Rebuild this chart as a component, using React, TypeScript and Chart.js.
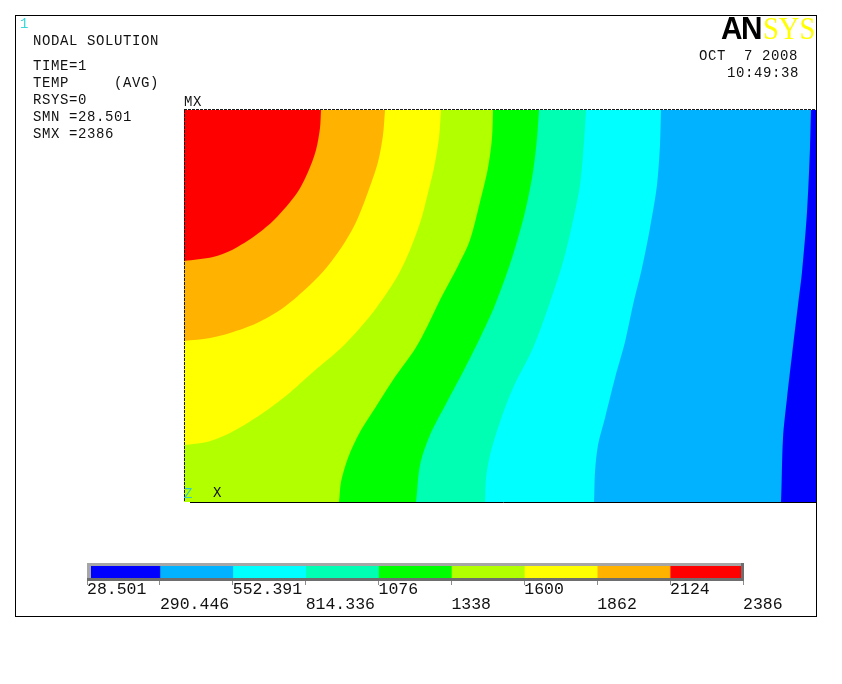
import React, { useEffect, useRef } from "react";
import { Chart, registerables } from "chart.js";

Chart.register(...registerables);

// Band edges as [distance along x, height above the lower edge], model units.
const edgeRed = [[0,241],[29,245],[48,252],[72,267],[91,283],[113,309],[124,330],[132,352],[136,374],[137,392]];
const edgeOrange = [[0,161],[26,164],[46,169],[73,179],[99,194],[126,217],[143,235],[161,260],[173,282],[184,310],[194,340],[199,367],[201,392]];
const edgeYellow = [[0,57],[23,60],[46,69],[76,87],[103,107],[129,130],[156,153],[176,174],[193,195],[213,225],[226,252],[237,282],[243,305],[250,334],[255,364],[257,392]];
const edgeLime = [[0,0],[154,0],[155,0],[157,20],[164,44],[176,70],[193,97],[209,122],[231,153],[243,175],[256,202],[274,236],[286,262],[296,300],[304,334],[308,364],[309,392]];
const edgeGreen = [[0,0],[231,0],[232,0],[236,37],[246,67],[263,100],[280,132],[296,164],[311,197],[328,244],[341,290],[349,330],[353,364],[355,392]];
const edgeSpring = [[0,0],[300,0],[301,0],[302,24],[306,47],[316,80],[329,114],[349,154],[365,197],[379,240],[388,277],[396,317],[400,360],[402,392]];
const edgeCyan = [[0,0],[409,0],[410,0],[411,30],[414,57],[421,84],[431,124],[441,160],[449,197],[458,234],[466,274],[473,317],[476,357],[477,392]];
const edgeAzure = [[0,0],[596,0],[597,0],[599,64],[603,104],[608,147],[614,197],[618,230],[623,290],[626,354],[627,392]];
const edgeBlue = [[0,0],[633,0]];

const bandEdges = [edgeRed, edgeOrange, edgeYellow, edgeLime, edgeGreen, edgeSpring, edgeCyan, edgeAzure, edgeBlue];
const bandColors = ["#FF0000", "#FFB200", "#FFFF00", "#B2FF00", "#00FF00", "#00FFB2", "#00FFFF", "#00B2FF", "#0000FF"];

const levels = [28.501, 290.446, 552.391, 814.336, 1076, 1338, 1600, 1862, 2124, 2386];
const levelLabels = ["28.501", "290.446", "552.391", "814.336", "1076", "1338", "1600", "1862", "2124", "2386"];
const legendColors = ["#0000FF", "#00B2FF", "#00FFFF", "#00FFB2", "#00FF00", "#B2FF00", "#FFFF00", "#FFB200", "#FF0000"];

const infoLines = [
  { text: "NODAL SOLUTION", left: 33, top: 41 },
  { text: "TIME=1", left: 33, top: 66 },
  { text: "TEMP     (AVG)", left: 33, top: 83 },
  { text: "RSYS=0", left: 33, top: 100 },
  { text: "SMN =28.501", left: 33, top: 117 },
  { text: "SMX =2386", left: 33, top: 134 },
  { text: "OCT  7 2008", left: 699, top: 56 },
  { text: "10:49:38", left: 727, top: 73 },
  { text: "MX", left: 184, top: 102 },
  { text: "X", left: 213, top: 493 },
];

const W = 842;
const H = 684;
const mono = '"Liberation Mono", monospace';

const plotEdges = {
  id: "plotEdges",
  afterDraw(chart: any) {
    const { ctx, chartArea: a } = chart;
    ctx.save();
    ctx.strokeStyle = "#1a1a1a";
    ctx.lineWidth = 1;
    ctx.setLineDash([3, 1]);
    ctx.beginPath();
    ctx.moveTo(a.left + 0.5, a.top);
    ctx.lineTo(a.left + 0.5, a.bottom);
    ctx.moveTo(a.left, a.top - 0.5);
    ctx.lineTo(a.right, a.top - 0.5);
    ctx.stroke();
    ctx.setLineDash([]);
    ctx.strokeStyle = "#000";
    ctx.beginPath();
    ctx.moveTo(a.left + 6, a.bottom + 0.5);
    ctx.lineTo(a.right, a.bottom + 0.5);
    ctx.stroke();
    ctx.restore();
  },
};

const legendFrame = {
  id: "legendFrame",
  afterDatasetsDraw(chart: any) {
    const { ctx, chartArea: a } = chart;
    ctx.save();
    ctx.fillStyle = "#A6A6A6";
    ctx.fillRect(a.left, a.top, a.right - a.left + 1, 3);
    ctx.fillRect(a.left, a.top, 4, a.bottom - a.top);
    ctx.fillStyle = "#6E6E6E";
    ctx.fillRect(a.left, a.bottom - 3, a.right - a.left + 1, 3);
    ctx.fillRect(a.right - 2, a.top, 3, a.bottom - a.top);
    ctx.restore();
  },
};

export default function App() {
  const mainRef = useRef<HTMLCanvasElement>(null);
  const legendRef = useRef<HTMLCanvasElement>(null);

  useEffect(() => {
    const main = new Chart(mainRef.current!, {
      type: "line",
      data: {
        datasets: bandEdges.map((edge, i) => ({
          data: edge.map(([x, y]) => ({ x, y })),
          backgroundColor: bandColors[i],
          borderWidth: 0,
          pointRadius: 0,
          tension: 0.3,
          fill: "end",
        })),
      },
      options: {
        responsive: false,
        animation: false,
        layout: { padding: { left: 184, right: W - 817, top: 110, bottom: H - 502 } },
        plugins: { legend: { display: false }, tooltip: { enabled: false } },
        scales: {
          x: { type: "linear", min: 0, max: 633, display: false },
          y: { type: "linear", min: 0, max: 392, display: false },
        },
      },
      plugins: [plotEdges],
    } as any);

    const legend = new Chart(legendRef.current!, {
      type: "bar",
      data: {
        labels: ["TEMP"],
        datasets: legendColors.map((color, i) => ({
          data: [[levels[i], levels[i + 1]]],
          backgroundColor: color,
          borderWidth: 0,
          grouped: false,
          barPercentage: 1,
          categoryPercentage: 1,
        })),
      },
      options: {
        indexAxis: "y",
        responsive: false,
        animation: false,
        layout: { padding: { left: 87, right: W - 743, top: 563, bottom: 0 } },
        plugins: { legend: { display: false }, tooltip: { enabled: false } },
        scales: {
          y: { display: false },
          x: {
            type: "linear",
            min: levels[0],
            max: levels[levels.length - 1],
            afterBuildTicks: (axis: any) => {
              axis.ticks = levels.map((value) => ({ value }));
            },
            afterFit: (axis: any) => {
              axis.height = H - 581;
            },
            border: { display: false },
            grid: { color: "#8C8C8C", drawOnChartArea: false, drawTicks: true, tickLength: 4 },
            ticks: {
              autoSkip: false,
              maxRotation: 0,
              minRotation: 0,
              align: "start",
              padding: -3,
              color: "#111",
              font: { family: mono, size: 16.5, lineHeight: "15px" },
              callback: (_v: any, i: number) =>
                i % 2 === 0 ? [levelLabels[i], ""] : ["", levelLabels[i]],
            },
          },
        },
      },
      plugins: [legendFrame],
    } as any);

    return () => {
      main.destroy();
      legend.destroy();
    };
  }, []);

  const layer: React.CSSProperties = { position: "absolute", left: 0, top: 0 };

  return (
    <div style={{ position: "absolute", left: 0, top: 0, width: W, height: H, background: "#fff", overflow: "hidden" }}>
      <canvas ref={mainRef} width={W} height={H} style={layer} />
      <canvas ref={legendRef} width={W} height={H} style={layer} />
      <div style={{ position: "absolute", left: 15, top: 15, width: 802, height: 602, boxSizing: "border-box", border: "1px solid #000" }} />
      {infoLines.map((l) => (
        <div
          key={l.text}
          style={{
            position: "absolute",
            left: l.left,
            top: l.top - 8,
            height: 16,
            font: `14px/16px ${mono}`,
            letterSpacing: "0.6px",
            whiteSpace: "pre",
            color: "#111",
          }}
        >
          {l.text}
        </div>
      ))}
      <div style={{ position: "absolute", left: 20, top: 16, font: `14px/16px ${mono}`, color: "#35D8D8" }}>1</div>
      <div style={{ position: "absolute", left: 184, top: 486, font: `14px/16px ${mono}`, color: "#35C8C8" }}>Z</div>
      <div
        style={{
          position: "absolute",
          left: 721,
          top: 11,
          font: 'bold 31px/36px "Liberation Sans", sans-serif',
          letterSpacing: "-1.5px",
          color: "#000",
          whiteSpace: "pre",
          transform: "scaleX(0.96)",
          transformOrigin: "left center",
        }}
      >
        AN
      </div>
      <div
        style={{
          position: "absolute",
          left: 763,
          top: 11,
          font: '31px/36px "Liberation Serif", serif',
          color: "#FFFF00",
          whiteSpace: "pre",
          transform: "scaleX(0.92)",
          transformOrigin: "left center",
        }}
      >
        SYS
      </div>
    </div>
  );
}
